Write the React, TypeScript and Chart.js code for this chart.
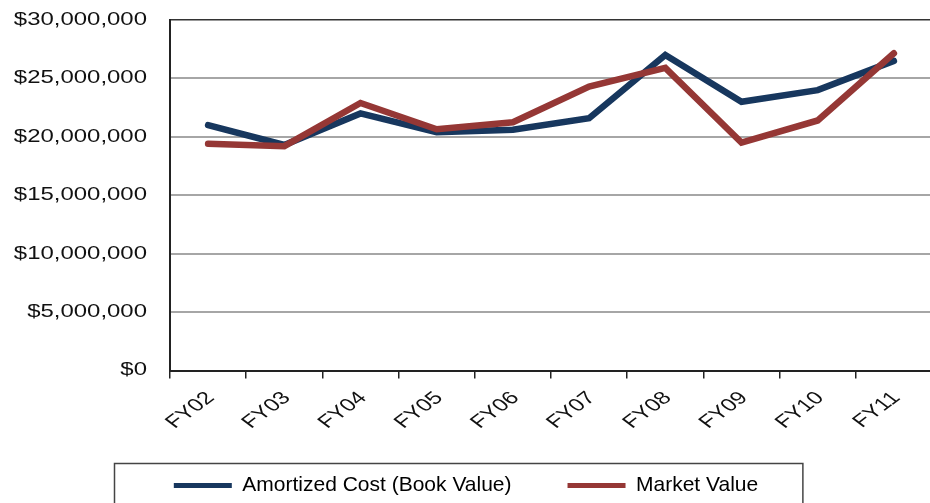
import React, { useEffect, useRef } from "react";
import { Chart, registerables } from "chart.js";

Chart.register(...registerables);

const categories = ["FY02", "FY03", "FY04", "FY05", "FY06", "FY07", "FY08", "FY09", "FY10", "FY11"];
const amortizedCost = [21000000, 19300000, 22000000, 20400000, 20600000, 21600000, 27000000, 23000000, 24000000, 26500000];
const marketValue = [19400000, 19200000, 22900000, 20650000, 21250000, 24300000, 25900000, 19500000, 21400000, 27150000];
const seriesLabels = ["Amortized Cost (Book Value)", "Market Value"];
const seriesColors = ["#17375E", "#953735"];

const FONT = "'Liberation Sans', Arial, sans-serif";
const STRETCH = 1.33;

const fmtMoney = (v: number) => "$" + String(Math.round(v)).replace(/\B(?=(\d{3})+(?!\d))/g, ",");

const stretchPlugin = {
  id: "stretchTicks",
  beforeDraw(chart: any) {
    const ctx = chart.ctx;
    if (chart.scales && chart.scales.x) {
      chart.scales.x._computeLabelArea = () => undefined;
    }
    const orig = CanvasRenderingContext2D.prototype.fillText;
    ctx.fillText = function (this: CanvasRenderingContext2D, ...args: any[]) {
      if (/\b18px\b/.test(this.font)) {
        const m = this.getTransform();
        this.save();
        this.setTransform(m.a * STRETCH, m.b, m.c * STRETCH, m.d, m.e, m.f);
        (orig as any).apply(this, args);
        this.restore();
      } else {
        (orig as any).apply(this, args);
      }
    };
  },
  afterDraw(chart: any) {
    delete chart.ctx.fillText;
  },
};

const legendFramePlugin = {
  id: "legendFrame",
  afterDraw(chart: any) {
    const lg = chart.legend;
    if (!lg || !lg.legendHitBoxes || !lg.legendHitBoxes.length) return;
    const hb = lg.legendHitBoxes;
    const first = hb[0];
    const last = hb[hb.length - 1];
    const left = first.left - 60;
    const right = last.left + last.width + 44;
    const top = first.top - 12.5;
    const ctx = chart.ctx;
    ctx.save();
    ctx.strokeStyle = "#444";
    ctx.lineWidth = 1.5;
    ctx.strokeRect(Math.round(left) + 0.5, Math.round(top) + 0.5, right - left, 200);
    ctx.restore();
  },
};

export default function App() {
  const ref = useRef<HTMLCanvasElement | null>(null);

  useEffect(() => {
    if (!ref.current) return;
    const chart = new Chart(ref.current, {
      type: "line",
      data: {
        labels: categories,
        datasets: [
          {
            label: seriesLabels[0],
            data: amortizedCost,
            borderColor: seriesColors[0],
            backgroundColor: seriesColors[0],
            borderWidth: 6.5,
            pointRadius: 0,
            tension: 0,
            borderCapStyle: "round",
            borderJoinStyle: "miter",
            order: 1,
          },
          {
            label: seriesLabels[1],
            data: marketValue,
            borderColor: seriesColors[1],
            backgroundColor: seriesColors[1],
            borderWidth: 6.5,
            pointRadius: 0,
            tension: 0,
            borderCapStyle: "round",
            borderJoinStyle: "miter",
            order: 0,
          },
        ],
      },
      options: {
        animation: false,
        responsive: false,
        maintainAspectRatio: false,
        devicePixelRatio: 1,
        layout: { padding: { top: 20, left: 0, right: 0, bottom: 0 } },
        plugins: {
          tooltip: { enabled: false },
          legend: {
            position: "bottom",
            labels: {
              boxWidth: 58,
              boxHeight: 5,
              padding: 56,
              color: "#111",
              font: { family: FONT, size: 21 },
              generateLabels: (c: any) =>
                c.data.datasets.map((d: any, i: number) => ({
                  text: d.label,
                  fillStyle: d.borderColor,
                  strokeStyle: d.borderColor,
                  lineWidth: 0,
                  hidden: false,
                  datasetIndex: i,
                })),
            },
          },
        },
        scales: {
          x: {
            offset: true,
            grid: {
              offset: true,
              drawOnChartArea: false,
              drawTicks: true,
              tickLength: 8,
              color: "#222",
              lineWidth: 1.5,
            },
            border: { display: true, color: "#222", width: 2 },
            ticks: {
              autoSkip: false,
              minRotation: 45,
              maxRotation: 45,
              padding: 9,
              color: "#111",
              font: { family: FONT, size: 18 },
            },
            afterFit: (s: any) => {
              s.height = 48.5;
            },
          },
          y: {
            min: 0,
            max: 30000000,
            ticks: {
              stepSize: 5000000,
              padding: 23,
              color: "#111",
              font: { family: FONT, size: 18 },
              callback: (v: any) => fmtMoney(Number(v)),
            },
            grid: {
              drawTicks: false,
              color: (c: any) => (c.tick && c.tick.value === 30000000 ? "#333" : "#a6a6a6"),
              lineWidth: (c: any) => (c.tick && c.tick.value === 30000000 ? 1.5 : 2),
            },
            border: { display: true, color: "#222", width: 2 },
            afterFit: (s: any) => {
              s.width = 170;
              s.paddingTop = 0;
              s.paddingBottom = 0;
            },
          },
        },
      },
      plugins: [stretchPlugin, legendFramePlugin],
    });
    return () => chart.destroy();
  }, []);

  return (
    <div
      style={{
        position: "fixed",
        left: 0,
        top: 0,
        width: 930,
        height: 503,
        overflow: "hidden",
        background: "#fff",
      }}
    >
      <canvas ref={ref} width={932} height={506} style={{ width: 932, height: 506, display: "block" }} />
    </div>
  );
}
